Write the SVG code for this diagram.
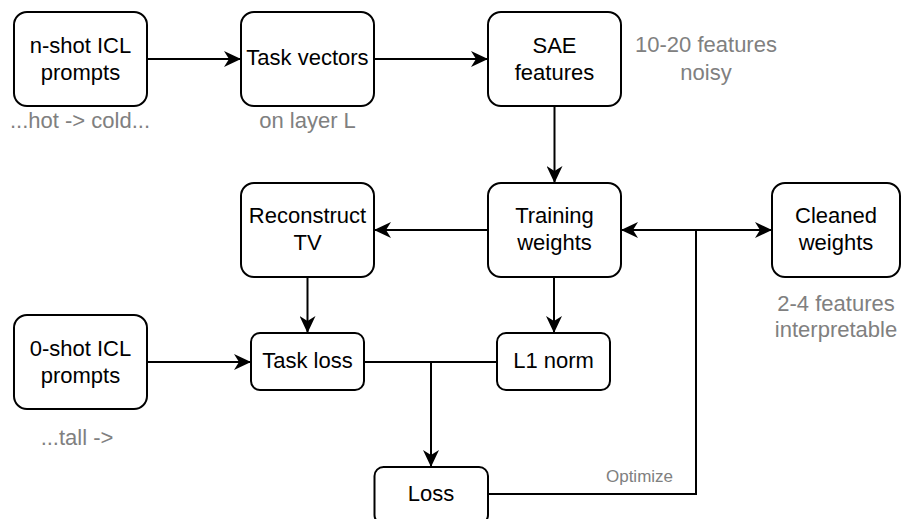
<svg xmlns="http://www.w3.org/2000/svg" width="902" height="519" viewBox="0 0 902 519">
  <style>
    .box { fill: #ffffff; stroke: #000000; stroke-width: 2; }
    .lbl { font-family: "Liberation Sans", Arial, sans-serif; font-size: 22px; fill: #000000; text-anchor: middle; }
    .note { font-family: "Liberation Sans", Arial, sans-serif; font-size: 22px; fill: #808080; text-anchor: middle; }
    .small { font-family: "Liberation Sans", Arial, sans-serif; font-size: 17px; fill: #808080; text-anchor: middle; }
    .edge { fill: none; stroke: #000000; stroke-width: 2; }
  </style>
  <defs>
    <marker id="arrow" markerUnits="userSpaceOnUse" viewBox="0 0 17 16" refX="17" refY="8" markerWidth="17" markerHeight="16" orient="auto">
      <path d="M0,0 L17,8 L0,16 L5,8 Z" fill="#000000"/>
    </marker>
  </defs>
  <rect width="902" height="519" fill="#ffffff"/>

  <!-- connectors -->
  <g id="connectors">
    <path class="edge" d="M147,59 H241" marker-end="url(#arrow)"/>
    <path class="edge" d="M374,59 H488" marker-end="url(#arrow)"/>
    <path class="edge" d="M554.5,106 V183" marker-end="url(#arrow)"/>
    <path class="edge" d="M488,230 H374" marker-end="url(#arrow)"/>
    <path class="edge" d="M307.5,277 V333" marker-end="url(#arrow)"/>
    <path class="edge" d="M554,277 V333" marker-end="url(#arrow)"/>
    <path class="edge" d="M147,362 H251" marker-end="url(#arrow)"/>
    <path class="edge" d="M364,362 H497"/>
    <path class="edge" d="M431,362 V467" marker-end="url(#arrow)"/>
    <path class="edge" d="M488,494 H696 V230"/>
    <path class="edge" d="M696,230 H621" marker-end="url(#arrow)"/>
    <path class="edge" d="M696,230 H772" marker-end="url(#arrow)"/>
    <text class="small" x="639.5" y="482">Optimize</text>
  </g>

  <!-- nodes -->
  <g id="nshot">
    <rect class="box" x="14" y="12" width="133" height="94" rx="13"/>
    <text class="lbl" x="80.5" y="53">n-shot ICL</text>
    <text class="lbl" x="80.5" y="80">prompts</text>
    <text class="note" x="80" y="128">...hot -&gt; cold...</text>
  </g>
  <g id="taskvectors">
    <rect class="box" x="241" y="12" width="133" height="94" rx="13"/>
    <text class="lbl" x="307.5" y="65">Task vectors</text>
    <text class="note" x="307.5" y="128">on layer L</text>
  </g>
  <g id="sae">
    <rect class="box" x="488" y="12" width="133" height="94" rx="13"/>
    <text class="lbl" x="554.5" y="53">SAE</text>
    <text class="lbl" x="554.5" y="80">features</text>
    <text class="note" x="706" y="52">10-20 features</text>
    <text class="note" x="706" y="80">noisy</text>
  </g>
  <g id="reconstruct">
    <rect class="box" x="241" y="183" width="133" height="94" rx="13"/>
    <text class="lbl" x="307.5" y="223">Reconstruct</text>
    <text class="lbl" x="307.5" y="250">TV</text>
  </g>
  <g id="training">
    <rect class="box" x="488" y="183" width="133" height="94" rx="13"/>
    <text class="lbl" x="554.5" y="223">Training</text>
    <text class="lbl" x="554.5" y="250">weights</text>
  </g>
  <g id="cleaned">
    <rect class="box" x="772" y="183" width="128" height="94" rx="13"/>
    <text class="lbl" x="836" y="223">Cleaned</text>
    <text class="lbl" x="836" y="250">weights</text>
    <text class="note" x="836" y="311">2-4 features</text>
    <text class="note" x="836" y="337">interpretable</text>
  </g>
  <g id="zeroshot">
    <rect class="box" x="14" y="315" width="133" height="94" rx="13"/>
    <text class="lbl" x="80.5" y="356">0-shot ICL</text>
    <text class="lbl" x="80.5" y="383">prompts</text>
    <text class="note" x="77" y="445">...tall -&gt;</text>
  </g>
  <g id="taskloss">
    <rect class="box" x="251" y="333" width="113" height="57" rx="9"/>
    <text class="lbl" x="307.5" y="368">Task loss</text>
  </g>
  <g id="l1norm">
    <rect class="box" x="497" y="333" width="113" height="57" rx="9"/>
    <text class="lbl" x="553.5" y="368">L1 norm</text>
  </g>
  <g id="loss">
    <rect class="box" x="374.5" y="467" width="113.5" height="57" rx="9"/>
    <text class="lbl" x="431" y="501">Loss</text>
  </g>
</svg>
